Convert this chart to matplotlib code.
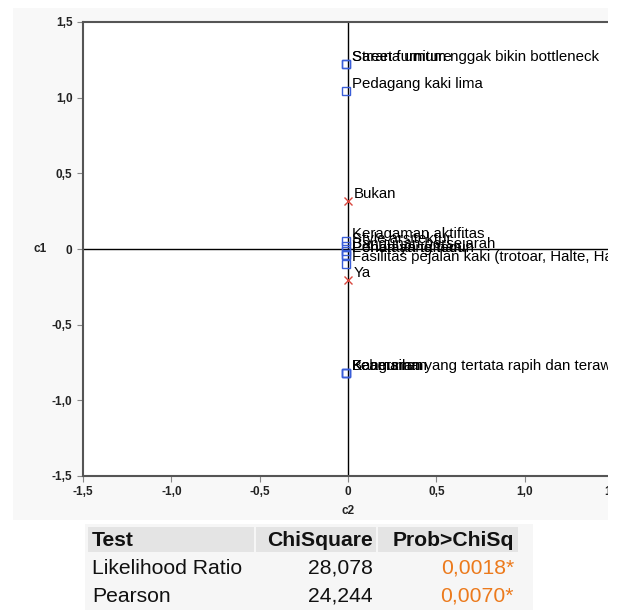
import matplotlib
matplotlib.use("Agg")
import matplotlib.pyplot as plt
from matplotlib.patches import Rectangle
from matplotlib.ticker import FuncFormatter

plt.rcParams['font.family'] = ['Liberation Sans', 'DejaVu Sans']

# ---- data ----
sq_labels = ["Street furniture", "Sarana umum nggak bikin bottleneck", "Pedagang kaki lima",
             "Keragaman aktifitas", "Style arsitektur", "Bangunan bersejarah",
             "Pohon yang teduh", "Penataan taman",
             "Fasilitas pejalan kaki (trotoar, Halte, Halte bus)",
             "Kebersihan", "Keamanan", "Bangunan yang tertata rapih dan terawat"]
sq_c2 = [-0.01, -0.01, -0.01, -0.01, -0.01, -0.01, -0.01, -0.01, -0.01, -0.01, -0.01, -0.01]
sq_c1 = [1.22, 1.22, 1.045, 0.05, 0.02, -0.01, -0.04, -0.04, -0.10, -0.82, -0.82, -0.82]

x_labels = ["Bukan", "Ya"]
x_c2 = [0.0, 0.0]
x_c1 = [0.315, -0.205]

ticks = [-1.5, -1.0, -0.5, 0.0, 0.5, 1.0, 1.5]

tests = ["Likelihood Ratio", "Pearson"]
chisq = ["28,078", "24,244"]
probs = ["0,0018*", "0,0070*"]
headers = ["Test", "ChiSquare", "Prob>ChiSq"]

W, H = 621, 610
fig = plt.figure(figsize=(W / 100, H / 100), dpi=100, facecolor="white")

def fx(px):
    return px / W

def fy(py):
    return 1 - py / H

# light gray report background
fig.patches.append(Rectangle((fx(13), fy(520)), fx(608) - fx(13), fy(8) - fy(520),
                             transform=fig.transFigure, facecolor="#f8f8f8",
                             edgecolor="none", zorder=-5))

ax = fig.add_axes([fx(83), fy(476), fx(613) - fx(83), fy(22) - fy(476)])
ax.set_facecolor("white")
ax.set_xlim(-1.5, 1.5)
ax.set_ylim(-1.5, 1.5)
ax.axhline(0, color="black", lw=1.0, zorder=1)
ax.axvline(0, color="black", lw=1.0, zorder=1)

ax.plot(sq_c2, sq_c1, linestyle="none", marker="s", markersize=5.5,
        markerfacecolor="none", markeredgecolor="#3a5ed8", markeredgewidth=1.0, zorder=3)
ax.plot(x_c2, x_c1, linestyle="none", marker="x", markersize=5.5,
        color="#d9483f", markeredgewidth=1.0, zorder=3)

for lab, xv, yv in zip(sq_labels + x_labels, sq_c2 + x_c2, sq_c1 + x_c1):
    ax.annotate(lab, (xv, yv), xytext=(4, 0), textcoords="offset points",
                ha="left", va="bottom", fontsize=10.8, color="black", zorder=4)

fmt = FuncFormatter(lambda v, p: "0" if abs(v) < 1e-9 else f"{v:.1f}".replace(".", ","))
ax.set_xticks(ticks)
ax.set_yticks(ticks)
ax.xaxis.set_major_formatter(fmt)
ax.yaxis.set_major_formatter(fmt)
ax.tick_params(axis="both", direction="out", length=4, width=0.8, color="#888888",
               labelsize=8.5, labelcolor="#222222")
for t in ax.get_xticklabels() + ax.get_yticklabels():
    t.set_fontweight("bold")

for s in ["left", "bottom", "top"]:
    ax.spines[s].set_color("#555555")
    ax.spines[s].set_linewidth(1.5)
ax.spines["right"].set_visible(False)

fig.text(fx(40), fy(249), "c1", ha="center", va="center", fontsize=8.5,
         fontweight="bold", color="#222222")
fig.text(fx(348), fy(511), "c2", ha="center", va="center", fontsize=8.5,
         fontweight="bold", color="#222222")

# crop on the right
fig.patches.append(Rectangle((fx(608), 0), 1 - fx(608), 1, transform=fig.transFigure,
                             facecolor="white", edgecolor="none", zorder=10))

# ---- table ----
fig.patches.append(Rectangle((fx(85), 0), fx(533) - fx(85), fy(524), transform=fig.transFigure,
                             facecolor="#f6f6f6", edgecolor="none", zorder=-4))
cols = [(88, 254), (256, 376), (378, 518)]
for (a, b) in cols:
    fig.patches.append(Rectangle((fx(a), fy(552)), fx(b) - fx(a), fy(527) - fy(552),
                                 transform=fig.transFigure, facecolor="#e4e4e4",
                                 edgecolor="none", zorder=-3))
fs = 15.2
fig.text(fx(92), fy(540), headers[0], ha="left", va="center", fontsize=fs,
         fontweight="bold", color="#111111")
fig.text(fx(373), fy(540), headers[1], ha="right", va="center", fontsize=fs,
         fontweight="bold", color="#111111")
fig.text(fx(514), fy(540), headers[2], ha="right", va="center", fontsize=fs,
         fontweight="bold", color="#111111")
for i, (t, c, p) in enumerate(zip(tests, chisq, probs)):
    yy = fy(568 + 28 * i)
    fig.text(fx(92), yy, t, ha="left", va="center", fontsize=fs, color="#111111")
    fig.text(fx(373), yy, c, ha="right", va="center", fontsize=fs, color="#111111")
    fig.text(fx(514), yy, p, ha="right", va="center", fontsize=fs, color="#ec7a1c")

fig.savefig("out.png", dpi=100, facecolor="white")
